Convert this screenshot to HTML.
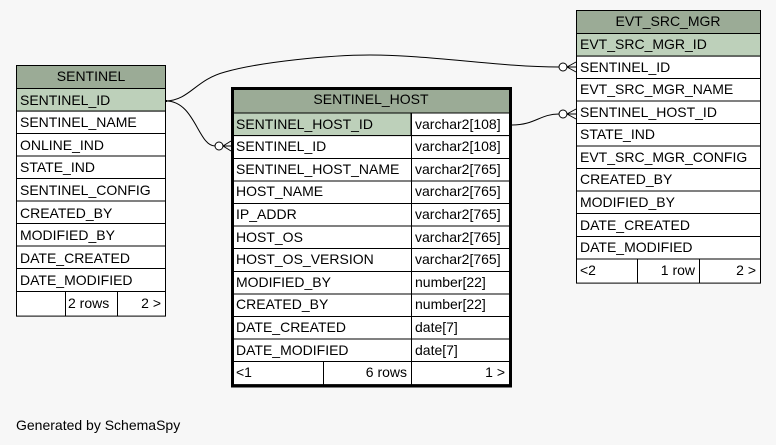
<!DOCTYPE html>
<html><head><meta charset="utf-8"><style>
html,body{margin:0;padding:0;background:#f7f7f7;}
svg{display:block;}
text{font-family:"Liberation Sans",sans-serif;font-size:14px;fill:#000;}
</style></head><body>
<svg width="776" height="445" viewBox="0 0 776 445" xmlns="http://www.w3.org/2000/svg">
<rect width="776" height="445" fill="#f7f7f7"/>
<g fill="none" stroke="#000" stroke-width="1">
<path d="M166,101 C190,100 195,80 225,72 C260,62 330,55 370,55 C430,55 500,67 559,67"/>
<path d="M166,101 C195,101 198,146 215,146"/>
<path d="M512,125 C535,125 540,114 559,114"/>
<circle cx="563" cy="67" r="4" fill="#fff"/>
<circle cx="563" cy="114" r="4" fill="#fff"/>
<circle cx="219" cy="146" r="4" fill="#fff"/>
<path d="M567,67 L576,62 M567,67 L576,72 M567,67 L576,67"/>
<path d="M567,114 L576,109 M567,114 L576,119 M567,114 L576,114"/>
<path d="M223,146 L231,141 M223,146 L231,151 M223,146 L231,146"/>
</g>
<line x1="162" y1="101" x2="167" y2="101" stroke="#000" stroke-width="2"/>

<g stroke="#000" stroke-width="1">
<rect x="16.5" y="65.5" width="149" height="23" fill="#9bab96"/>
<rect x="16.5" y="88.5" width="149" height="22.6" fill="#bdd0ba"/>
<rect x="16.5" y="111.1" width="149" height="205" fill="#fff"/>
<line x1="16" y1="133.5" x2="166" y2="133.5"/><line x1="16" y1="156" x2="166" y2="156"/>
<line x1="16" y1="178.5" x2="166" y2="178.5"/><line x1="16" y1="201" x2="166" y2="201"/>
<line x1="16" y1="223.5" x2="166" y2="223.5"/><line x1="16" y1="246" x2="166" y2="246"/>
<line x1="16" y1="268.5" x2="166" y2="268.5"/><line x1="16" y1="291.5" x2="166" y2="291.5"/>
<line x1="65.5" y1="291.5" x2="65.5" y2="316"/><line x1="117.5" y1="291.5" x2="117.5" y2="316"/>
</g>
<text x="91" y="81" text-anchor="middle">SENTINEL</text>
<text x="20" y="105">SENTINEL_ID</text>
<text x="20" y="127">SENTINEL_NAME</text>
<text x="20" y="150">ONLINE_IND</text>
<text x="20" y="172">STATE_IND</text>
<text x="20" y="195">SENTINEL_CONFIG</text>
<text x="20" y="218">CREATED_BY</text>
<text x="20" y="240">MODIFIED_BY</text>
<text x="20" y="263">DATE_CREATED</text>
<text x="20" y="285">DATE_MODIFIED</text>
<text x="68" y="308">2 rows</text>
<text x="161" y="308" text-anchor="end">2 &gt;</text>

<g stroke="#000" stroke-width="1">
<rect x="232.5" y="89.5" width="277" height="23.5" fill="#9bab96"/>
<rect x="232.5" y="113" width="277" height="22.6" fill="#bdd0ba"/>
<rect x="411" y="113" width="98.5" height="22.6" fill="#fff"/>
<rect x="232.5" y="135.6" width="277" height="249" fill="#fff"/>
<line x1="232" y1="158.5" x2="510" y2="158.5"/><line x1="232" y1="181" x2="510" y2="181"/>
<line x1="232" y1="203.5" x2="510" y2="203.5"/><line x1="232" y1="226" x2="510" y2="226"/>
<line x1="232" y1="248.5" x2="510" y2="248.5"/><line x1="232" y1="271.5" x2="510" y2="271.5"/>
<line x1="232" y1="294" x2="510" y2="294"/><line x1="232" y1="316.5" x2="510" y2="316.5"/>
<line x1="232" y1="339" x2="510" y2="339"/><line x1="232" y1="361.5" x2="510" y2="361.5"/>
<line x1="411.5" y1="113" x2="411.5" y2="385"/>
<line x1="323.5" y1="361.5" x2="323.5" y2="385"/>
</g>
<rect x="232.5" y="88.5" width="278" height="297.5" fill="none" stroke="#000" stroke-width="3"/>
<text x="371" y="104" text-anchor="middle">SENTINEL_HOST</text>
<text x="236" y="129">SENTINEL_HOST_ID</text><text x="415" y="129">varchar2[108]</text>
<text x="236" y="151">SENTINEL_ID</text><text x="415" y="151">varchar2[108]</text>
<text x="236" y="174">SENTINEL_HOST_NAME</text><text x="415" y="174">varchar2[765]</text>
<text x="236" y="196">HOST_NAME</text><text x="415" y="196">varchar2[765]</text>
<text x="236" y="219">IP_ADDR</text><text x="415" y="219">varchar2[765]</text>
<text x="236" y="242">HOST_OS</text><text x="415" y="242">varchar2[765]</text>
<text x="236" y="264">HOST_OS_VERSION</text><text x="415" y="264">varchar2[765]</text>
<text x="236" y="287">MODIFIED_BY</text><text x="415" y="287">number[22]</text>
<text x="236" y="309">CREATED_BY</text><text x="415" y="309">number[22]</text>
<text x="236" y="332">DATE_CREATED</text><text x="415" y="332">date[7]</text>
<text x="236" y="355">DATE_MODIFIED</text><text x="415" y="355">date[7]</text>
<text x="236" y="377">&lt;1</text>
<text x="407" y="377" text-anchor="end">6 rows</text>
<text x="505" y="377" text-anchor="end">1 &gt;</text>

<g stroke="#000" stroke-width="1">
<rect x="576.5" y="10.5" width="184" height="23" fill="#9bab96"/>
<rect x="576.5" y="33.5" width="184" height="22.6" fill="#bdd0ba"/>
<rect x="576.5" y="56.1" width="184" height="227" fill="#fff"/>
<line x1="576" y1="78.5" x2="761" y2="78.5"/><line x1="576" y1="101" x2="761" y2="101"/>
<line x1="576" y1="123.5" x2="761" y2="123.5"/><line x1="576" y1="146" x2="761" y2="146"/>
<line x1="576" y1="168.5" x2="761" y2="168.5"/><line x1="576" y1="191" x2="761" y2="191"/>
<line x1="576" y1="213.5" x2="761" y2="213.5"/><line x1="576" y1="236.5" x2="761" y2="236.5"/>
<line x1="576" y1="259" x2="761" y2="259"/>
<line x1="637.5" y1="259" x2="637.5" y2="283"/><line x1="699.5" y1="259" x2="699.5" y2="283"/>
</g>
<text x="668" y="26" text-anchor="middle">EVT_SRC_MGR</text>
<text x="580" y="49">EVT_SRC_MGR_ID</text>
<text x="580" y="72">SENTINEL_ID</text>
<text x="580" y="94">EVT_SRC_MGR_NAME</text>
<text x="580" y="117">SENTINEL_HOST_ID</text>
<text x="580" y="139">STATE_IND</text>
<text x="580" y="162">EVT_SRC_MGR_CONFIG</text>
<text x="580" y="184">CREATED_BY</text>
<text x="580" y="207">MODIFIED_BY</text>
<text x="580" y="230">DATE_CREATED</text>
<text x="580" y="252">DATE_MODIFIED</text>
<text x="580" y="275">&lt;2</text>
<text x="695" y="275" text-anchor="end">1 row</text>
<text x="756" y="275" text-anchor="end">2 &gt;</text>

<text x="16" y="430" style="font-size:14px">Generated by SchemaSpy</text>
</svg>
</body></html>
